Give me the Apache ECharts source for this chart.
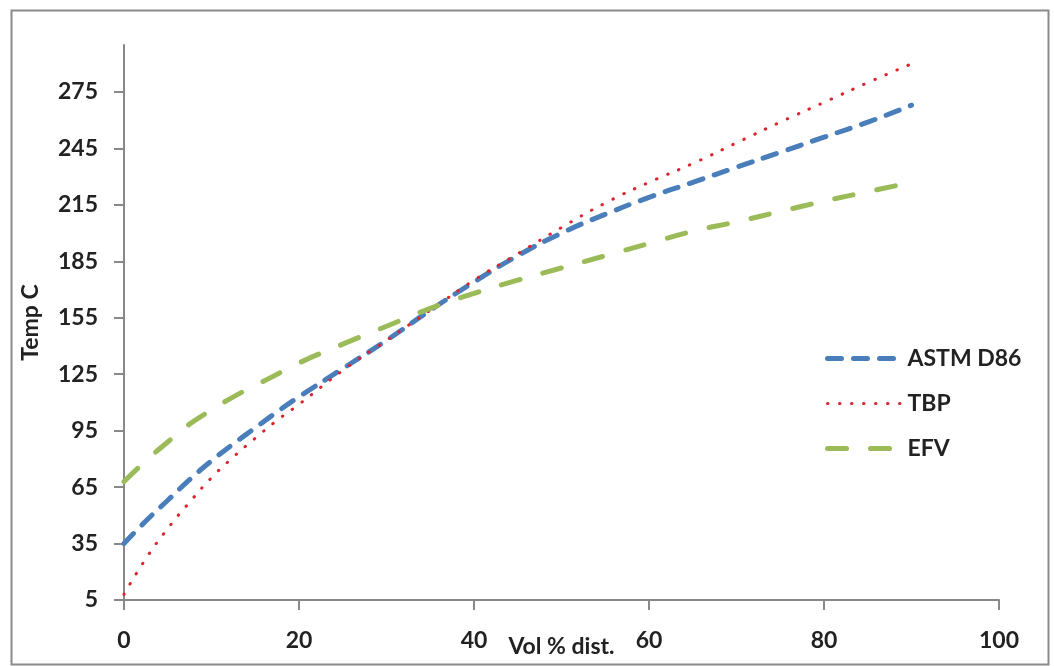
<!DOCTYPE html>
<html>
<head>
<meta charset="utf-8">
<script src="https://cdn.jsdelivr.net/npm/echarts@6/dist/echarts.min.js"></script>
<style>
html,body{margin:0;padding:0;background:#fff;}
#chart{width:1054px;height:666px;}
</style>
</head>
<body>
<div id="chart"></div>
<script>
// Data
const seriesNames = ['ASTM D86', 'TBP', 'EFV'];
const volPct = [0, 2.5, 5, 7.5, 10, 12.5, 15, 17.5, 20, 25, 30, 35, 40, 45, 50, 55, 60, 65, 70, 75, 80, 85, 90];
const astmD86 = [35, 47, 58, 69, 79, 88, 96.5, 105, 113, 128, 143, 159, 174, 188, 200, 210, 219, 227, 235, 243, 251, 259, 268];
const tbp = [8, 27, 43, 57, 70, 81, 91, 100.5, 109, 127, 143, 159, 175, 189, 203, 216, 227, 237, 248, 259, 269.5, 280, 290];
const efv = [68, 79, 89, 98.5, 106, 113, 119, 125, 131, 141, 150.5, 160, 168, 175, 181.5, 188, 194.5, 201, 206, 211.5, 217, 222, 227];
const yTicks = { min: 5, max: 300, interval: 30 };
const xTicks = { min: 0, max: 100, interval: 20 };

function pairs(ys) { return volPct.map((x, i) => [x, ys[i]]); }

const font = 'Lato, "Open Sans", sans-serif';
const fs = 23;
const lineStyles = [
  { color: '#4a7ebb', width: 5, type: [14, 12], cap: 'round' },
  { color: '#d9262e', width: 3, type: [0.5, 11.5], cap: 'round' },
  { color: '#9bbb59', width: 5, type: [19, 24], cap: 'round' }
];
const chart = echarts.init(document.getElementById('chart'), null, { renderer: 'canvas' });
chart.setOption({
  backgroundColor: '#ffffff',
  animation: false,
  graphic: [{
    type: 'rect', left: 9, top: 8, z: -1,
    shape: { width: 1037, height: 654 },
    style: { fill: 'none', stroke: '#8a8a8a', lineWidth: 2 }
  }],
  grid: { left: 124, right: 55, top: 45, bottom: 66, containLabel: false, outerBoundsMode: 'none' },
  legend: {
    orient: 'vertical', left: 820, top: 342, itemWidth: 75, itemHeight: 14, itemGap: 22,
    data: seriesNames.map((n, i) => ({
      name: n,
      itemStyle: { opacity: 0 },
      lineStyle: { width: lineStyles[i].width, type: lineStyles[i].type, cap: 'round', color: lineStyles[i].color }
    })),
    textStyle: { fontFamily: font, fontSize: fs, fontWeight: 'bold', color: '#222', padding: [0, 0, 0, 0] }
  },
  xAxis: {
    type: 'value', min: xTicks.min, max: xTicks.max, interval: xTicks.interval,
    name: 'Vol % dist.', nameLocation: 'middle', nameGap: 35, nameMoveOverlap: false,
    nameTextStyle: { fontFamily: font, fontSize: fs, fontWeight: 'bold', color: '#222' },
    axisLine: { show: true, lineStyle: { color: '#888', width: 2 } },
    axisTick: { show: true, length: 10, lineStyle: { color: '#888', width: 2 } },
    axisLabel: { margin: 29, fontFamily: font, fontSize: fs, fontWeight: 'bold', color: '#222' },
    splitLine: { show: false }
  },
  yAxis: {
    type: 'value', min: yTicks.min, max: yTicks.max, interval: yTicks.interval,
    name: 'Temp C', nameLocation: 'middle', nameGap: 82, nameRotate: 90, nameMoveOverlap: false,
    nameTextStyle: { fontFamily: font, fontSize: fs, fontWeight: 'bold', color: '#222' },
    axisLine: { show: true, lineStyle: { color: '#888', width: 2 } },
    axisTick: { show: true, length: 10, lineStyle: { color: '#888', width: 2 } },
    axisLabel: { margin: 26, showMaxLabel: false, fontFamily: font, fontSize: fs, fontWeight: 'bold', color: '#222' },
    splitLine: { show: false }
  },
  series: [
    { name: seriesNames[0], type: 'line', smooth: true, symbol: 'none', data: pairs(astmD86),
      itemStyle: { color: lineStyles[0].color }, lineStyle: lineStyles[0] },
    { name: seriesNames[1], type: 'line', smooth: true, symbol: 'none', data: pairs(tbp),
      itemStyle: { color: lineStyles[1].color }, lineStyle: lineStyles[1] },
    { name: seriesNames[2], type: 'line', smooth: true, symbol: 'none', data: pairs(efv),
      itemStyle: { color: lineStyles[2].color }, lineStyle: lineStyles[2] }
  ]
});
</script>
</body>
</html>
